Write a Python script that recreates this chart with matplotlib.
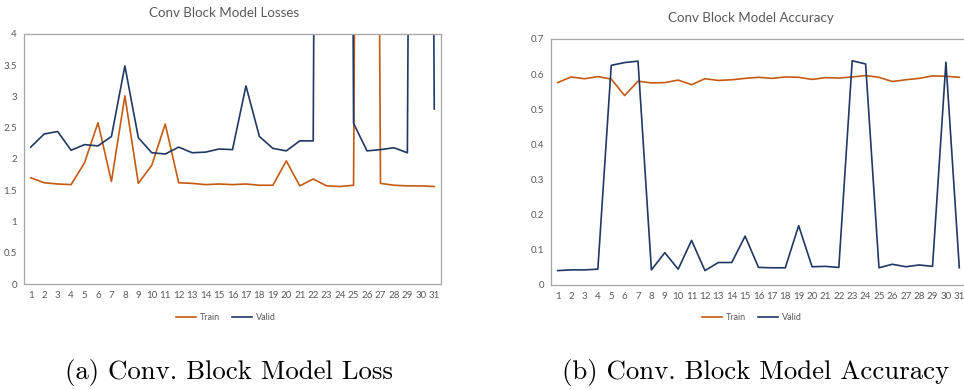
"""Conv block model: loss and accuracy curves, two panels side by side."""
import matplotlib
matplotlib.use("Agg")
import matplotlib.pyplot as plt
import numpy as np

epochs = np.arange(1, 32)

# loss curves (values above 4 run off the top of the chart)
train_loss = [1.70, 1.62, 1.60, 1.59, 1.94, 2.58, 1.64, 3.01, 1.61, 1.90,
              2.56, 1.62, 1.61, 1.59, 1.60, 1.59, 1.60, 1.58, 1.58, 1.97,
              1.57, 1.68, 1.57, 1.56, 1.58, 40.0, 1.61, 1.58, 1.57, 1.57, 1.56]
valid_loss = [2.19, 2.40, 2.44, 2.14, 2.23, 2.21, 2.36, 3.49, 2.34, 2.10,
              2.08, 2.19, 2.10, 2.11, 2.16, 2.15, 3.17, 2.36, 2.17, 2.13,
              2.29, 2.29, 45.0, 50.0, 2.57, 2.13, 2.15, 2.18, 2.10, 40.0, 2.80]

# accuracy curves
train_acc = [0.576, 0.592, 0.587, 0.593, 0.586, 0.539, 0.580, 0.575, 0.576, 0.583,
             0.570, 0.587, 0.582, 0.584, 0.588, 0.591, 0.588, 0.592, 0.591, 0.585,
             0.590, 0.589, 0.592, 0.596, 0.591, 0.579, 0.584, 0.588, 0.595, 0.594, 0.591]
valid_acc = [0.041, 0.043, 0.043, 0.045, 0.625, 0.633, 0.637, 0.043, 0.092, 0.045,
             0.127, 0.041, 0.064, 0.064, 0.139, 0.050, 0.049, 0.049, 0.169, 0.052,
             0.053, 0.050, 0.638, 0.629, 0.049, 0.059, 0.052, 0.057, 0.053, 0.634, 0.049]

loss_ticks = [0, 0.5, 1, 1.5, 2, 2.5, 3, 3.5, 4]
acc_ticks = [0, 0.1, 0.2, 0.3, 0.4, 0.5, 0.6, 0.7]

ORANGE = "#C55A11"
NAVY = "#1F3864"
GRID = "#A6A6A6"
TXT = "#595959"
FONT = "Lato"

W, H = 964, 390
fig = plt.figure(figsize=(W / 100, H / 100), dpi=100)


def px_axes(x0, y0, x1, y1):
    # pixel box (top-left origin) -> figure fraction
    return fig.add_axes([x0 / W, 1 - y1 / H, (x1 - x0) / W, (y1 - y0) / H])


def style(ax, ticks, labels, title, tx, ty):
    ax.set_xlim(0.5, 31.5)
    ax.set_ylim(ticks[0], ticks[-1])
    ax.set_yticks(ticks)
    ax.set_yticklabels(labels)
    ax.set_xticks(epochs)
    ax.set_xticklabels([str(e) for e in epochs])
    ax.tick_params(length=0, labelsize=7, labelcolor=TXT, pad=5)
    for lab in ax.get_xticklabels() + ax.get_yticklabels():
        lab.set_fontfamily(FONT)
    for s in ax.spines.values():
        s.set_color(GRID)
        s.set_linewidth(0.9)
    fig.text(tx, 1 - ty / H, title, ha="center", va="center",
             fontsize=9.6, color=TXT, fontfamily=FONT)


ax1 = px_axes(24, 34, 441, 284)
ax1.plot(epochs, train_loss, color=ORANGE, lw=1.2, label="Train")
ax1.plot(epochs, valid_loss, color=NAVY, lw=1.2, label="Valid")
style(ax1, loss_ticks, ["0", "0.5", "1", "1.5", "2", "2.5", "3", "3.5", "4"],
      "Conv Block Model Losses", 224 / W, 13)

ax2 = px_axes(551, 39, 966, 285)
ax2.plot(epochs, train_acc, color=ORANGE, lw=1.2, label="Train")
ax2.plot(epochs, valid_acc, color=NAVY, lw=1.2, label="Valid")
style(ax2, acc_ticks, ["0", "0.1", "0.2", "0.3", "0.4", "0.5", "0.6", "0.7"],
      "Conv Block Model Accuracy", 751 / W, 18)

for ax, cx in [(ax1, 226), (ax2, 752)]:
    h, l = ax.get_legend_handles_labels()
    fig.legend(h, l, loc="center", bbox_to_anchor=(cx / W, 1 - 318 / H), ncol=2,
               frameon=False, prop={"family": FONT, "size": 6.5}, labelcolor=TXT,
               handlelength=2.2, handletextpad=0.4, columnspacing=1.4)

fig.text(229 / W, 1 - 372 / H, "(a) Conv. Block Model Loss", ha="center", va="center",
         fontsize=19.3, fontfamily="cmr10")
fig.text(756 / W, 1 - 372 / H, "(b) Conv. Block Model Accuracy", ha="center", va="center",
         fontsize=19.3, fontfamily="cmr10")

fig.savefig("out.png", dpi=100)
